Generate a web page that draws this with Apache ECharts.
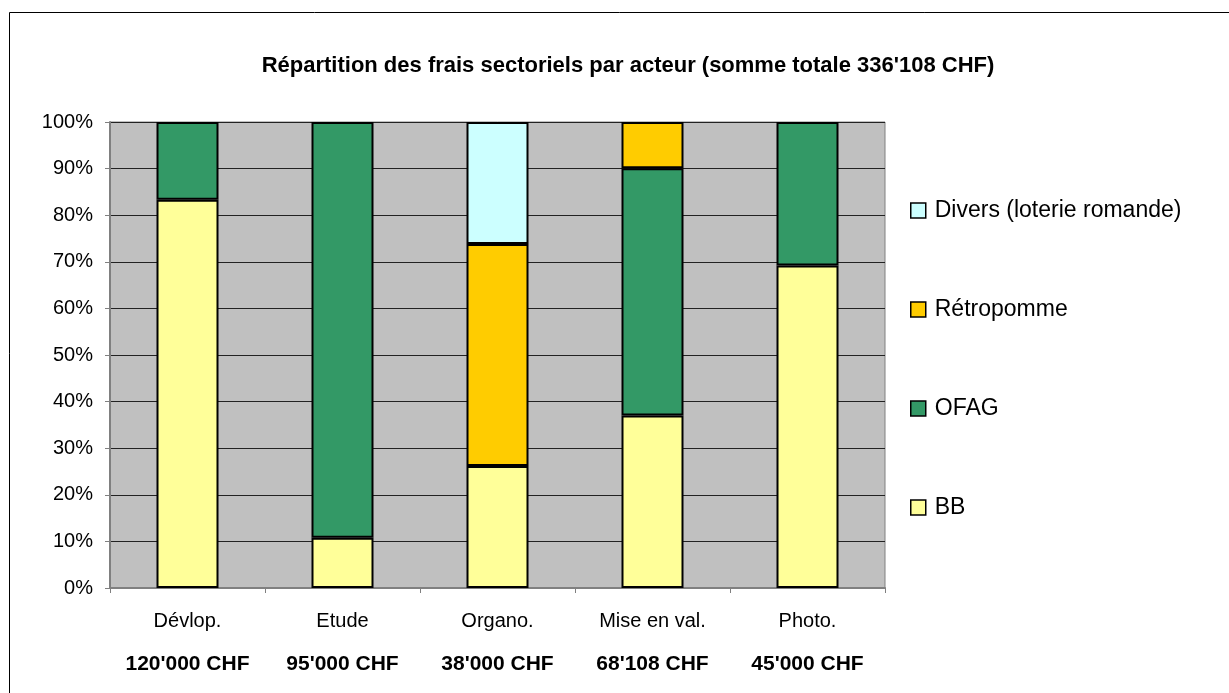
<!DOCTYPE html>
<html>
<head>
<meta charset="utf-8">
<script src="https://cdn.jsdelivr.net/npm/echarts@6/dist/echarts.min.js"></script>
<style>
  html, body { margin: 0; padding: 0; background: #fff; }
  #chart { width: 1229px; height: 693px; }
</style>
</head>
<body>
<div id="chart"></div>
<script>
// categories and their totals
var categories = ['Dévlop.', 'Etude', 'Organo.', 'Mise en val.', 'Photo.'];
var totals = ["120'000 CHF", "95'000 CHF", "38'000 CHF", "68'108 CHF", "45'000 CHF"];

// share in % per actor (null = no part)
var bb = [83.3, 10.8, 26.2, 37.0, 69.2];
var ofag = [16.7, 89.2, null, 53.1, 30.8];
var retropomme = [null, null, 47.6, 9.9, null];
var divers = [null, null, 26.2, null, null];

var yTicks = [0, 100, 10]; // min, max, interval

var chart = echarts.init(document.getElementById('chart'));

function barSeries(name, data, color) {
  return {
    name: name,
    type: 'bar',
    stack: 'total',
    barWidth: 62,
    itemStyle: { color: color, borderColor: '#000', borderWidth: 2 },
    emphasis: { disabled: true },
    data: data
  };
}

var option = {
  animation: false,
  textStyle: { fontFamily: 'Liberation Sans, Arial, sans-serif' },
  title: {
    text: "Répartition des frais sectoriels par acteur (somme totale 336'108 CHF)",
    left: 623,
    textAlign: 'center',
    top: 50,
    textStyle: { fontSize: 22, fontWeight: 'bold', color: '#000' }
  },
  graphic: [{
    type: 'rect',
    shape: { x: 9.5, y: 12.5, width: 1400, height: 900 },
    style: { fill: 'none', stroke: '#000', lineWidth: 1 },
    silent: true
  }],
  legend: {
    orient: 'vertical',
    left: 910,
    top: 199,
    padding: 0,
    itemWidth: 15,
    itemHeight: 15,
    itemGap: 76,
    icon: 'rect',
    data: ['Divers (loterie romande)', 'Rétropomme', 'OFAG', 'BB'],
    itemStyle: { borderColor: '#000', borderWidth: 1.5 },
    textStyle: { fontSize: 23, lineHeight: 22, color: '#000', padding: [0, 0, 0, 4] }
  },
  grid: {
    left: 110,
    right: 344,
    top: 122,
    bottom: 105,
    show: true,
    backgroundColor: '#C0C0C0',
    borderColor: '#808080',
    borderWidth: 1
  },
  xAxis: {
    type: 'category',
    data: categories,
    axisLine: { lineStyle: { color: '#808080', width: 2 } },
    axisTick: { show: true, length: 5, lineStyle: { color: '#808080' } },
    axisLabel: {
      margin: 12,
      interval: 0,
      formatter: function (value, idx) {
        return '{n|' + value + '}\n{t|' + totals[idx] + '}';
      },
      rich: {
        n: { fontSize: 20, lineHeight: 43, color: '#000' },
        t: { fontSize: 21, lineHeight: 43, fontWeight: 'bold', color: '#000' }
      }
    }
  },
  yAxis: {
    type: 'value',
    min: yTicks[0],
    max: yTicks[1],
    interval: yTicks[2],
    axisLine: { show: true, lineStyle: { color: '#808080', width: 2 } },
    axisTick: { show: true, length: 5, lineStyle: { color: '#808080' } },
    axisLabel: { formatter: '{value}%', fontSize: 20, color: '#000', margin: 17 },
    splitLine: { lineStyle: { color: '#222', width: 1 } }
  },
  series: [
    barSeries('BB', bb, '#FFFF99'),
    barSeries('OFAG', ofag, '#339966'),
    barSeries('Rétropomme', retropomme, '#FFCC00'),
    barSeries('Divers (loterie romande)', divers, '#CCFFFF')
  ]
};

chart.setOption(option);
</script>
</body>
</html>
